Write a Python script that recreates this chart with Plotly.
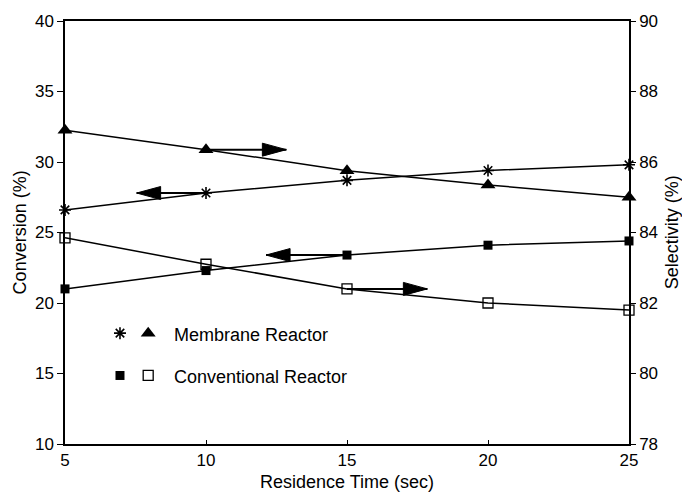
import plotly.graph_objects as go

# ---- data ----
residence_time = [5, 10, 15, 20, 25]
membrane_conversion = [26.6, 27.8, 28.7, 29.4, 29.8]          # left axis (asterisk)
conventional_conversion = [21.0, 22.3, 23.4, 24.1, 24.4]      # left axis (filled square)
membrane_selectivity = [86.9, 86.35, 85.75, 85.35, 85.0]      # right axis (triangle)
conventional_selectivity = [83.85, 83.1, 82.4, 82.0, 81.8]    # right axis (open square)

left_ticks = [10, 15, 20, 25, 30, 35, 40]
right_ticks = [78, 80, 82, 84, 86, 88, 90]
x_ticks = [5, 10, 15, 20, 25]

legend_labels = ["Membrane Reactor", "Conventional Reactor"]

FONT = "Liberation Sans, Arial, Helvetica, sans-serif"
BLACK = "#000000"

fig = go.Figure()

line_style = dict(color=BLACK, width=1.5)

fig.add_trace(go.Scatter(x=residence_time, y=membrane_conversion, mode="lines+markers",
                         line=line_style, yaxis="y",
                         marker=dict(symbol="asterisk-open", size=10, color=BLACK,
                                     line=dict(color=BLACK, width=1.6)),
                         cliponaxis=False, showlegend=False))
fig.add_trace(go.Scatter(x=residence_time, y=conventional_conversion, mode="lines+markers",
                         line=line_style, yaxis="y",
                         marker=dict(symbol="square", size=9, color=BLACK),
                         cliponaxis=False, showlegend=False))
fig.add_trace(go.Scatter(x=residence_time, y=membrane_selectivity, mode="lines+markers",
                         line=line_style, yaxis="y2",
                         marker=dict(symbol="triangle-up", size=13, color=BLACK),
                         cliponaxis=False, showlegend=False))
fig.add_trace(go.Scatter(x=residence_time, y=conventional_selectivity, mode="lines+markers",
                         line=line_style, yaxis="y2",
                         marker=dict(symbol="square-open", size=10, color=BLACK,
                                     line=dict(color=BLACK, width=1.3)),
                         cliponaxis=False, showlegend=False))

# ---- custom legend on a hidden overlay axis ----
leg_x1 = [0.0975, 0.1475]
leg_y = [0.262, 0.162]
fig.add_trace(go.Scatter(x=[leg_x1[0]], y=[leg_y[0]], xaxis="x2", yaxis="y3", mode="markers",
                         marker=dict(symbol="asterisk-open", size=10, color=BLACK,
                                     line=dict(color=BLACK, width=1.6)), showlegend=False))
fig.add_trace(go.Scatter(x=[leg_x1[1]], y=[leg_y[0]], xaxis="x2", yaxis="y3", mode="markers",
                         marker=dict(symbol="triangle-up", size=13, color=BLACK), showlegend=False))
fig.add_trace(go.Scatter(x=[leg_x1[0]], y=[leg_y[1]], xaxis="x2", yaxis="y3", mode="markers",
                         marker=dict(symbol="square", size=9, color=BLACK), showlegend=False))
fig.add_trace(go.Scatter(x=[leg_x1[1]], y=[leg_y[1]], xaxis="x2", yaxis="y3", mode="markers",
                         marker=dict(symbol="square-open", size=10, color=BLACK,
                                     line=dict(color=BLACK, width=1.3)), showlegend=False))

annotations = []
for lbl, yy in zip(legend_labels, leg_y):
    annotations.append(dict(x=0.19, y=yy, xref="paper", yref="paper", text=lbl,
                            showarrow=False, xanchor="left", yanchor="middle", yshift=-2,
                            font=dict(family=FONT, size=18, color=BLACK)))

# axis titles
annotations.append(dict(x=0.5, y=-0.09, xref="paper", yref="paper", text="Residence Time (sec)",
                        showarrow=False, xanchor="center", yanchor="middle",
                        font=dict(family=FONT, size=18, color=BLACK)))
annotations.append(dict(x=-0.08, y=0.5, xref="paper", yref="paper", text="Conversion (%)",
                        showarrow=False, textangle=-90, xanchor="center", yanchor="middle",
                        font=dict(family=FONT, size=18, color=BLACK)))
annotations.append(dict(x=1.076, y=0.5, xref="paper", yref="paper", text="Selectivity (%)",
                        showarrow=False, textangle=-90, xanchor="center", yanchor="middle",
                        font=dict(family=FONT, size=18, color=BLACK)))

# ---- arrows indicating which axis each curve uses ----
# (start x, tip x, y, yref)
arrows = [
    (10, 12.85, membrane_selectivity[1], "y2"),
    (10, 7.54, membrane_conversion[1], "y"),
    (15, 12.13, conventional_conversion[2], "y"),
    (15, 17.85, conventional_selectivity[2], "y2"),
]
shapes = []
for x0, x1, yy, yr in arrows:
    shapes.append(dict(type="line", xref="x", yref=yr, x0=x0, x1=x1, y0=yy, y1=yy,
                       line=dict(color=BLACK, width=2)))
    d = 1 if x1 > x0 else -1
    path = f"M0,0 L{-24*d},6.5 L{-24*d},-6.5 Z"
    shapes.append(dict(type="path", xref="x", yref=yr, xsizemode="pixel", ysizemode="pixel",
                       xanchor=x1, yanchor=yy, path=path,
                       fillcolor=BLACK, line=dict(color=BLACK, width=1)))

tickfont = dict(family=FONT, size=17, color=BLACK)

fig.update_layout(
    width=682, height=494,
    margin=dict(l=65, r=53, t=19, b=50),
    paper_bgcolor="white", plot_bgcolor="white",
    showlegend=False,
    xaxis=dict(range=[5, 25], tickvals=x_ticks, ticks="inside", ticklen=4, tickwidth=1,
               tickcolor=BLACK, showline=True, linecolor=BLACK, linewidth=1.5, mirror=True,
               showgrid=False, zeroline=False, tickfont=tickfont),
    yaxis=dict(range=[10, 40], tickvals=left_ticks, ticks="outside", ticklen=6, tickwidth=1,
               tickcolor=BLACK, showline=True, linecolor=BLACK, linewidth=1.5,
               showgrid=False, zeroline=False, tickfont=tickfont),
    yaxis2=dict(range=[78, 90], tickvals=right_ticks, overlaying="y", side="right",
                ticks="outside", ticklen=5, tickwidth=1, tickcolor=BLACK, showline=True,
                linecolor=BLACK, linewidth=1.5, showgrid=False, zeroline=False, tickfont=tickfont),
    xaxis2=dict(range=[0, 1], overlaying="x", visible=False),
    yaxis3=dict(range=[0, 1], overlaying="y", visible=False),
    annotations=annotations,
    shapes=shapes,
)

fig.write_html("out.html", config={"displayModeBar": False},
               post_script="document.body.style.margin='0';document.body.style.overflow='hidden';")
